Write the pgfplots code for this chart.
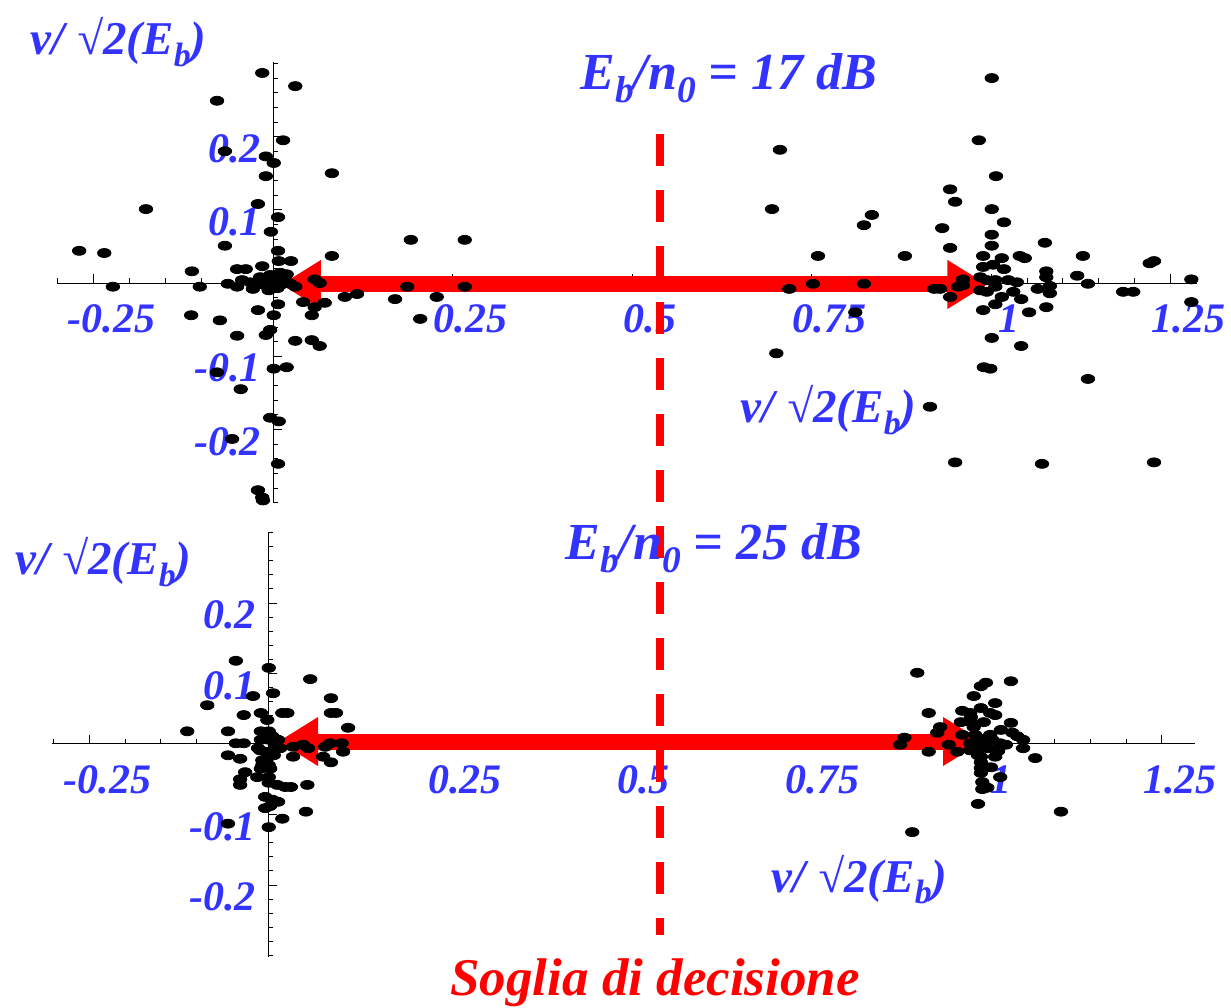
\documentclass[border=0pt]{standalone}
\usepackage{graphicx}
\usepackage{pgfplots}
\pgfplotsset{compat=1.18}
\usetikzlibrary{arrows.meta}
\usepackage{fontspec}
\setmainfont{Liberation Serif}
\definecolor{lblue}{RGB}{51,51,255}
\definecolor{ared}{RGB}{255,0,0}

\pgfplotstableread{
x y
-0.015 0.287
0.031 0.269
-0.078 0.249
0.014 0.195
-0.067 0.180
-0.010 0.173
0.001 0.164
-0.010 0.146
0.082 0.150
-0.177 0.101
-0.021 0.108
0.007 0.090
-0.003 0.070
-0.270 0.044
-0.235 0.041
-0.067 0.051
0.007 0.044
0.082 0.037
0.192 0.059
0.267 0.059
-0.113 0.016
-0.050 0.019
-0.038 0.019
-0.015 0.023
0.008 0.030
0.025 0.030
-0.223 -0.005
-0.102 -0.005
-0.063 -0.001
-0.050 -0.005
-0.043 0.004
-0.028 -0.008
-0.032 0.001
-0.018 0.008
-0.008 0.004
-0.004 0.011
0.010 0.014
0.019 0.012
0.001 0.000
0.010 -0.003
-0.006 -0.010
0.006 -0.007
0.014 0.001
0.031 -0.005
0.058 0.005
0.065 0.000
0.042 -0.026
0.058 -0.033
0.072 -0.027
0.100 -0.019
0.117 -0.015
0.170 -0.022
0.187 -0.005
0.228 -0.019
0.267 -0.005
0.205 -0.049
0.007 -0.029
-0.114 -0.044
-0.074 -0.051
-0.021 -0.037
0.001 -0.044
0.054 -0.044
-0.050 -0.072
-0.004 -0.064
-0.010 -0.071
0.031 -0.079
0.054 -0.078
0.065 -0.086
0.001 -0.117
0.019 -0.115
-0.078 -0.122
-0.045 -0.145
-0.004 -0.184
0.008 -0.189
-0.057 -0.213
0.007 -0.247
-0.021 -0.283
-0.015 -0.293
-0.014 -0.297
-0.015 0.004
0.004 0.010
-0.011 -0.003
0.017 0.005
-0.001 0.007
-0.007 -0.004
0.024 -0.001
-0.021 -0.001
1.001 0.280
0.983 0.195
0.706 0.182
1.007 0.146
0.943 0.128
0.950 0.111
0.695 0.101
1.001 0.101
0.834 0.093
0.823 0.079
1.018 0.083
0.932 0.075
1.001 0.066
1.075 0.055
1.001 0.051
0.943 0.048
0.759 0.037
0.880 0.037
1.128 0.037
1.221 0.027
1.227 0.030
1.040 0.037
1.047 0.034
0.989 0.037
1.015 0.034
0.989 0.022
1.003 0.025
1.018 0.019
1.077 0.016
1.077 0.008
1.120 0.010
1.279 0.005
1.135 -0.001
1.184 -0.012
1.198 -0.012
0.719 -0.008
0.752 -0.001
0.823 -0.001
0.921 -0.008
0.929 -0.008
0.943 -0.019
1.279 -0.026
0.811 -0.040
1.001 -0.075
1.042 -0.086
0.701 -0.096
0.990 -0.115
0.999 -0.117
1.135 -0.131
0.915 -0.169
0.950 -0.245
1.071 -0.247
1.227 -0.245
0.961 0.005
0.985 0.008
0.994 0.004
1.006 0.004
1.024 0.004
1.036 0.001
1.006 -0.005
0.954 -0.005
0.961 -0.003
0.985 -0.010
0.994 -0.012
1.031 -0.012
1.015 -0.019
1.006 -0.029
1.065 -0.008
1.082 -0.004
1.082 -0.014
1.042 -0.022
1.077 -0.033
0.989 -0.037
1.053 -0.040
}\topdata

\pgfplotstableread{
x y
-0.045 0.118
0.001 0.108
0.059 0.092
-0.021 0.068
0.007 0.072
-0.085 0.055
0.088 0.065
-0.034 0.041
-0.010 0.044
0.020 0.044
0.027 0.044
0.088 0.044
0.095 0.044
-0.001 0.034
0.112 0.023
-0.113 0.018
-0.056 0.018
-0.010 0.018
0.001 0.018
-0.010 0.006
0.001 0.006
-0.045 0.001
-0.034 0.001
0.087 0.001
0.103 0.001
0.035 -0.004
0.049 -0.001
0.056 -0.006
0.080 -0.004
-0.056 -0.016
-0.039 -0.021
0.035 -0.018
0.077 -0.018
0.088 -0.026
0.105 -0.011
-0.011 -0.009
0.007 -0.009
-0.008 -0.030
0.001 -0.030
-0.032 -0.040
-0.010 -0.035
0.003 -0.035
-0.039 -0.050
-0.039 -0.058
-0.015 -0.047
0.001 -0.047
0.001 -0.055
0.013 -0.058
0.024 -0.061
0.032 -0.061
0.055 -0.058
-0.004 -0.075
0.006 -0.079
0.014 -0.082
-0.004 -0.091
0.003 -0.088
0.053 -0.096
0.020 -0.106
-0.056 -0.113
0.001 -0.118
-0.004 0.013
0.006 0.011
-0.003 -0.011
0.008 -0.016
-0.008 -0.023
0.010 -0.001
0.017 -0.006
-0.014 -0.006
0.014 0.006
-0.001 -0.020
0.908 0.101
1.039 0.089
1.004 0.087
0.997 0.082
0.987 0.068
1.017 0.058
0.924 0.044
0.971 0.047
0.982 0.044
0.997 0.051
1.010 0.044
1.017 0.041
0.983 0.038
0.983 0.031
0.969 0.031
1.001 0.031
1.039 0.030
0.940 0.024
0.936 0.016
0.971 0.013
0.987 0.024
1.025 0.020
1.041 0.016
1.048 0.011
1.056 0.006
1.056 -0.006
0.890 0.009
0.884 -0.001
0.952 -0.001
0.924 -0.011
0.964 -0.011
0.982 0.001
0.992 0.006
1.001 0.007
1.013 0.006
1.024 0.001
1.032 -0.001
0.993 -0.007
1.007 -0.006
1.021 -0.010
0.997 -0.018
0.997 -0.026
1.073 -0.020
0.997 -0.034
0.997 -0.041
1.011 -0.033
1.024 -0.047
0.999 -0.054
0.999 -0.064
1.006 -0.062
0.993 -0.085
1.109 -0.096
0.901 -0.125
0.989 0.013
1.003 -0.001
1.010 0.013
0.993 -0.016
1.017 -0.018
0.982 -0.009
}\botdata

\pgfplotsset{
  scatstyle/.style={
    axis lines=middle,
    axis line style={-, black, line width=0.5pt},
    enlargelimits=false,
    clip=false,
    anchor=south west,
    tick align=inside,
    major tick length=4.5pt,
    minor tick length=2.5pt,
    every tick/.style={black, line width=0.4pt},
    ticklabel style={font=\fontsize{21}{21}\selectfont\bfseries\itshape, text=lblue, inner sep=0pt},
    xtick={-0.25,0,0.25,0.5,0.75,1,1.25},
    xticklabels={-0.25,{},0.25,0.5,0.75,1,1.25},
    ytick={-0.2,-0.1,0,0.1,0.2},
    yticklabels={-0.2,-0.1,{},0.1,0.2},
    minor xtick={-0.3,-0.25,...,1.3},
    minor ytick={-0.3,-0.28,...,0.3},
    xticklabel style={anchor=north, xshift=9pt, yshift=-10.5pt},
    yticklabel style={anchor=east, xshift=-6pt, yshift=-6pt},
  },
  dots/.style={only marks, mark=*, mark size=2.25pt, black, mark options={xscale=1.5, draw=black, fill=black}},
  redarrow/.style={ared, line width=8pt, {Triangle[length=20pt,width=23pt]}-{Triangle[length=20pt,width=23pt]}},
}

\newcommand{\sub}[1]{\raisebox{-0.24em}{\scalebox{0.72}{#1}}}
\newcommand{\axlab}{v/\hspace{0.28em}√2(E\sub{b})}

\begin{document}
\begin{tikzpicture}
% top plot
\begin{axis}[scatstyle, at={(28.45pt,252pt)},
  x=359pt, y=366pt,
  xmin=-0.301, xmax=1.287, ymin=-0.3005, ymax=0.302]
\addplot[redarrow] coordinates {(0.011,-0.002) (0.995,-0.002)};
\addplot[dots] table[x=x,y=y] {\topdata};
\end{axis}
% bottom plot
\begin{axis}[scatstyle, at={(26.05pt,25.05pt)},
  x=357.5pt, y=352.5pt,
  xmin=-0.302, xmax=1.297, ymin=-0.302, ymax=0.301]
\addplot[redarrow] coordinates {(0.014,0.0035) (1.0,0.0035)};
\addplot[dots] table[x=x,y=y] {\botdata};
\addplot[ared, line width=4pt, dash pattern=on 16pt off 12pt] coordinates {(0.548,0.865) (0.548,-0.271)};
\end{axis}
% texts
\begin{scope}[every node/.style={inner sep=0pt, anchor=base west}]
\node[text=lblue, font=\fontsize{23.5}{23.5}\selectfont\bfseries\itshape] at (15pt,476pt) {\axlab};
\node[text=lblue, font=\fontsize{23.5}{23.5}\selectfont\bfseries\itshape] at (370pt,292pt) {\axlab};
\node[text=lblue, font=\fontsize{23.5}{23.5}\selectfont\bfseries\itshape] at (7.5pt,216pt) {\axlab};
\node[text=lblue, font=\fontsize{23.5}{23.5}\selectfont\bfseries\itshape] at (385.5pt,57.5pt) {\axlab};
\node[text=lblue, font=\fontsize{26}{26}\selectfont\bfseries\itshape] at (290pt,458.5pt) {E\sub{b}/n\sub{0} = 17 dB};
\node[text=lblue, font=\fontsize{26}{26}\selectfont\bfseries\itshape] at (282.5pt,223.5pt) {E\sub{b}/n\sub{0} = 25 dB};
\node[text=ared, font=\fontsize{26.5}{26.5}\selectfont\bfseries\itshape] at (225pt,6pt) {Soglia di decisione};
\end{scope}
\pgfresetboundingbox
\path[use as bounding box] (0,0) rectangle (615.5pt,503.5pt);
\end{tikzpicture}
\end{document}
